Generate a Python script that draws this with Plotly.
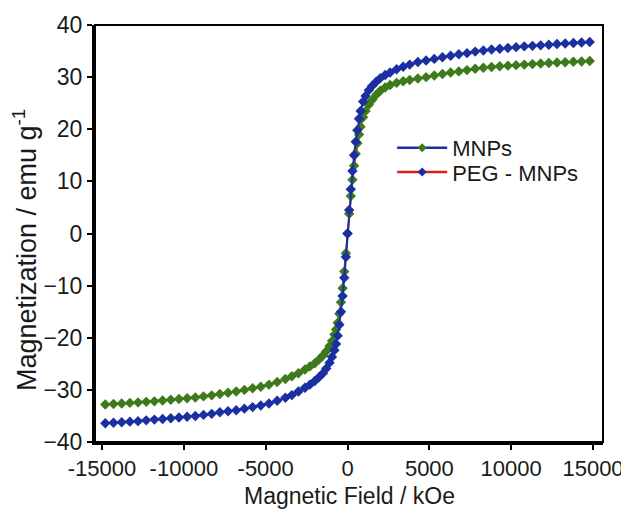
import plotly.graph_objects as go

# Field values (Oe)
field = [-14800, -14300, -13800, -13300, -12800, -12300, -11800, -11300, -10800, -10300,
         -9800, -9300, -8800, -8300, -7800, -7300, -6800, -6300, -5800, -5300,
         -4800, -4300, -3800, -3400, -3000, -2600, -2300, -2000, -1750, -1500,
         -1300, -1100, -950, -800, -700, -600, -500, -400, -300, -200, -100, 0,
         100, 200, 300, 400, 500, 600, 700, 800, 950, 1100,
         1300, 1500, 1750, 2000, 2300, 2600, 3000, 3400, 3800, 4300,
         4800, 5300, 5800, 6300, 6800, 7300, 7800, 8300, 8800, 9300,
         9800, 10300, 10800, 11300, 11800, 12300, 12800, 13300, 13800, 14300, 14800]

# Upper curve (blue markers, blue line)
m_blue = [-36.4, -36.3, -36.2, -36.1, -36.0, -35.85, -35.7, -35.6, -35.45, -35.3,
          -35.15, -35.0, -34.8, -34.6, -34.3, -34.1, -33.9, -33.6, -33.3, -33.0,
          -32.6, -32.1, -31.5, -31.0, -30.3, -29.6, -29.0, -28.3, -27.6, -26.8,
          -25.9, -24.8, -23.7, -22.4, -21.2, -19.6, -17.5, -15.0, -12.0, -8.5, -4.5, 0.0,
          4.5, 8.5, 12.0, 15.0, 17.6, 19.8, 22.0, 23.5, 25.3, 26.4,
          27.5, 28.3, 29.1, 29.8, 30.4, 30.9, 31.5, 32.0, 32.4, 32.9,
          33.2, 33.5, 33.8, 34.1, 34.4, 34.6, 34.9, 35.1, 35.3, 35.45,
          35.6, 35.75, 35.9, 36.0, 36.1, 36.2, 36.35, 36.45, 36.55, 36.65, 36.75]

# Lower curve (green markers, red line)
m_green = [-32.8, -32.7, -32.6, -32.5, -32.4, -32.3, -32.2, -32.05, -31.9, -31.75,
           -31.6, -31.45, -31.25, -31.05, -30.8, -30.55, -30.3, -30.0, -29.7, -29.4,
           -29.0, -28.5, -27.9, -27.4, -26.8, -26.1, -25.5, -24.9, -24.2, -23.4,
           -22.6, -21.6, -20.6, -19.4, -18.4, -17.1, -15.4, -13.2, -10.5, -7.3, -3.8, 0.0,
           3.8, 7.2, 10.3, 13.0, 15.3, 17.3, 19.0, 20.5, 22.3, 23.5,
           24.7, 25.6, 26.6, 27.4, 28.0, 28.5, 28.9, 29.2, 29.45, 29.75,
           30.0, 30.3, 30.6, 30.9, 31.1, 31.35, 31.6, 31.8, 31.95, 32.1,
           32.2, 32.3, 32.4, 32.5, 32.6, 32.7, 32.8, 32.85, 32.95, 33.0, 33.1]

legend_names = ["MNPs", "PEG - MNPs"]
x_ticks = [-15000, -10000, -5000, 0, 5000, 10000, 15000]
y_ticks = [-40, -30, -20, -10, 0, 10, 20, 30, 40]
x_title = "Magnetic Field / kOe"
y_title = "Magnetization / emu g<sup>-1</sup>"

BLUE = "#1b2fa3"
GREEN = "#3d7a1c"
RED = "#d92020"
FONT = "Liberation Sans, Arial, sans-serif"
TXT = "#1a1a1a"

fig = go.Figure()
fig.add_trace(go.Scatter(x=field, y=m_green, mode="lines+markers",
                         line=dict(color=RED, width=2),
                         marker=dict(symbol="diamond", size=8, color=GREEN),
                         showlegend=False))
fig.add_trace(go.Scatter(x=field, y=m_blue, mode="lines+markers",
                         line=dict(color=BLUE, width=2),
                         marker=dict(symbol="diamond", size=8, color=BLUE),
                         showlegend=False))
# legend entries as they appear in the original
fig.add_trace(go.Scatter(x=[None], y=[None], mode="lines+markers", name=legend_names[0],
                         line=dict(color=BLUE, width=2.5), legend="legend",
                         marker=dict(symbol="diamond", size=7, color=GREEN)))
fig.add_trace(go.Scatter(x=[None], y=[None], mode="lines+markers", name=legend_names[1],
                         line=dict(color=RED, width=2.5), legend="legend2",
                         marker=dict(symbol="diamond", size=7, color=BLUE)))

leg_common = dict(xanchor="left", yanchor="middle", bgcolor="rgba(0,0,0,0)",
                  font=dict(size=22, color=TXT, family=FONT), itemwidth=50,
                  borderwidth=0)

# the page body adds an 8px margin, so the figure is 8px smaller and margins shifted
fig.update_layout(
    width=621, height=501,
    margin=dict(l=87, r=26, t=17, b=67),
    paper_bgcolor="white", plot_bgcolor="white",
    font=dict(family=FONT, size=22, color=TXT),
    showlegend=True,
    legend=dict(x=0.585, y=0.705, **leg_common),
    legend2=dict(x=0.585, y=0.647, **leg_common),
    shapes=[dict(type="rect", xref="paper", yref="paper", x0=0, x1=1, y0=0, y1=1,
                 line=dict(color="black", width=2), layer="above")],
    annotations=[
        dict(text=x_title, xref="paper", yref="paper", x=0.5, y=-0.13,
             xanchor="center", yanchor="middle", showarrow=False,
             font=dict(size=23, color=TXT, family=FONT)),
        dict(text=y_title, xref="paper", yref="paper", x=-0.138, y=0.46,
             xanchor="center", yanchor="middle", showarrow=False, textangle=-90,
             font=dict(size=27, color=TXT, family=FONT)),
    ],
)
fig.update_xaxes(range=[-15430, 15610], tickvals=x_ticks,
                 ticktext=[str(v) for v in x_ticks], automargin=False,
                 showgrid=False, zeroline=False, showline=True, linecolor="black",
                 linewidth=3, ticks="outside", ticklen=5, tickwidth=2, tickcolor="black",
                 tickfont=dict(size=22))
fig.update_yaxes(range=[-40, 40], tickvals=y_ticks, automargin=False,
                 showgrid=False, zeroline=False, showline=True, linecolor="black",
                 linewidth=3, ticks="outside", ticklen=5, tickwidth=2, tickcolor="black",
                 tickfont=dict(size=23))

fig.write_html("out.html")
